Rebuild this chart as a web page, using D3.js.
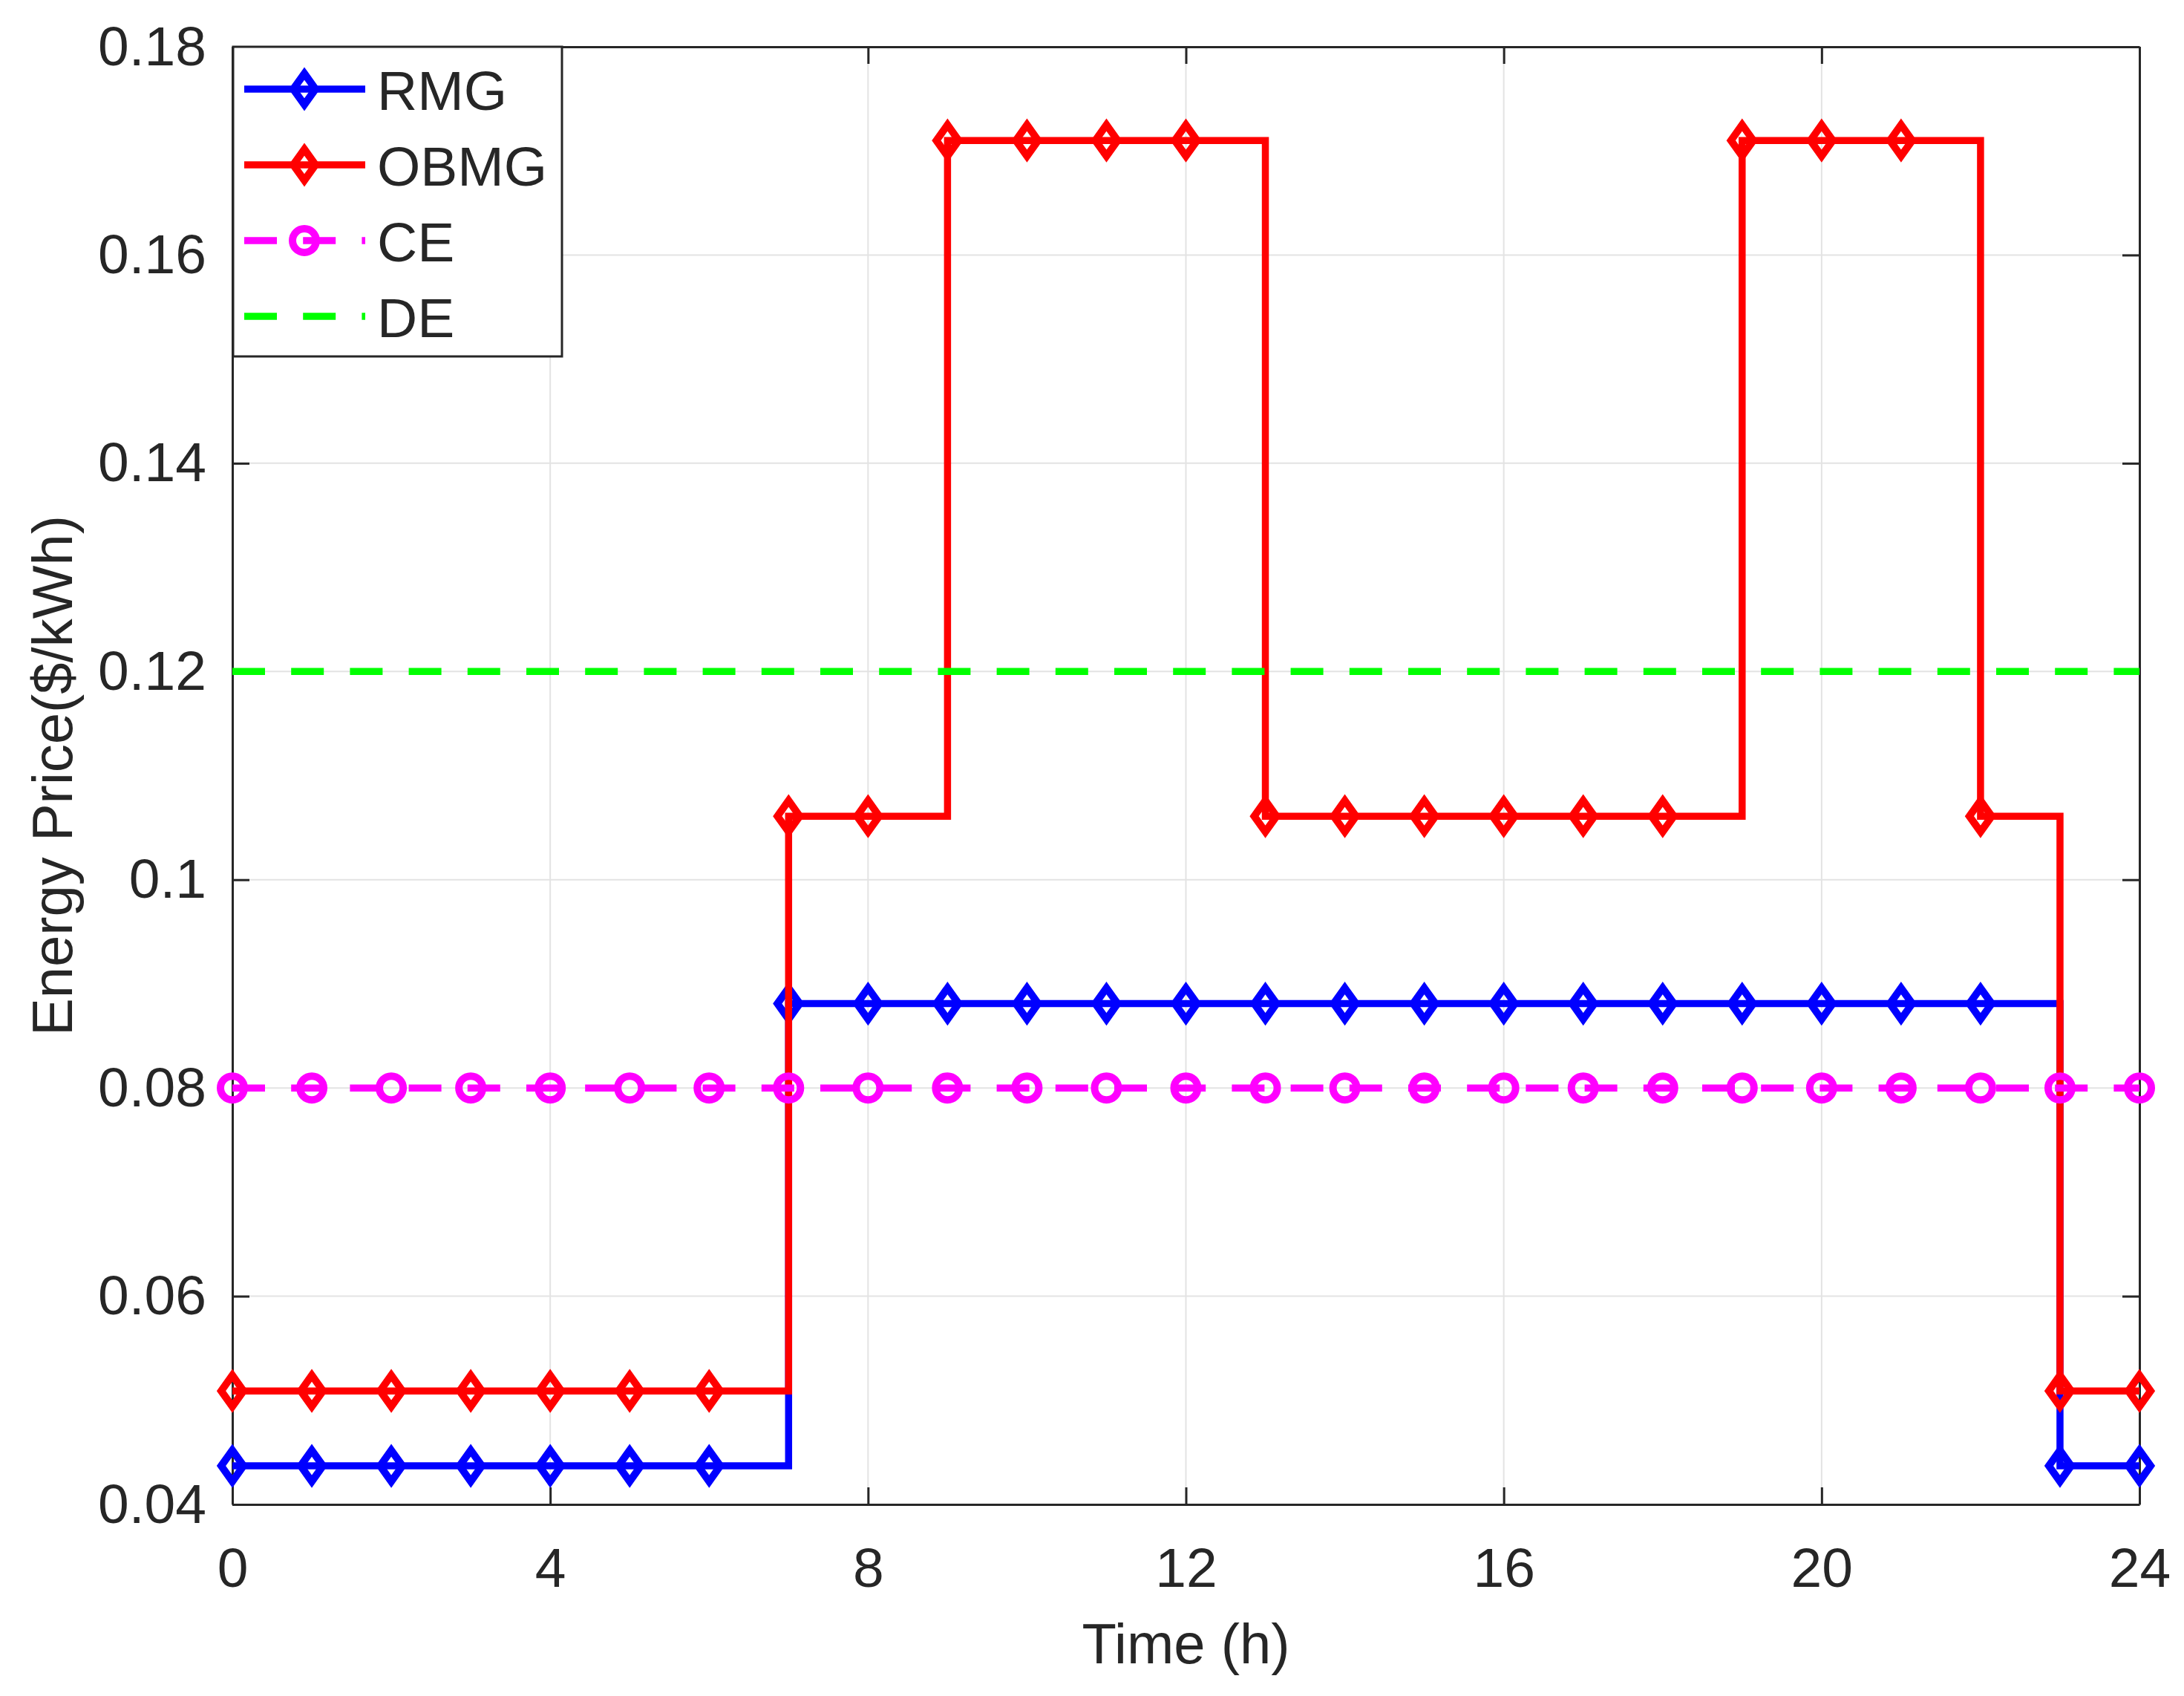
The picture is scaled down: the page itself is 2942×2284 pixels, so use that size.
<!DOCTYPE html>
<html>
<head>
<meta charset="utf-8">
<script src="https://cdn.jsdelivr.net/npm/d3@7"></script>
<style>
  body { margin: 0; background: #fff; }
  text { font-family: "Liberation Sans", Arial, sans-serif; fill: #262626; }
</style>
</head>
<body>
<div id="chart"></div>
<script>
// hourly data
const hours = [0, 1, 2, 3, 4, 5, 6, 7, 8, 9, 10, 11, 12, 13, 14, 15, 16, 17, 18, 19, 20, 21, 22, 23, 24];
const rmg  = [0.0437, 0.0437, 0.0437, 0.0437, 0.0437, 0.0437, 0.0437,
              0.0881, 0.0881, 0.0881, 0.0881, 0.0881, 0.0881, 0.0881, 0.0881,
              0.0881, 0.0881, 0.0881, 0.0881, 0.0881, 0.0881, 0.0881, 0.0881,
              0.0437, 0.0437];
const obmg = [0.0509, 0.0509, 0.0509, 0.0509, 0.0509, 0.0509, 0.0509,
              0.1061, 0.1061, 0.171, 0.171, 0.171, 0.171,
              0.1061, 0.1061, 0.1061, 0.1061, 0.1061, 0.1061,
              0.171, 0.171, 0.171, 0.1061, 0.0509, 0.0509];
const ce   = [0.08, 0.08, 0.08, 0.08, 0.08, 0.08, 0.08, 0.08, 0.08, 0.08, 0.08, 0.08, 0.08,
              0.08, 0.08, 0.08, 0.08, 0.08, 0.08, 0.08, 0.08, 0.08, 0.08, 0.08, 0.08];
const de   = [0.12, 0.12, 0.12, 0.12, 0.12, 0.12, 0.12, 0.12, 0.12, 0.12, 0.12, 0.12, 0.12,
              0.12, 0.12, 0.12, 0.12, 0.12, 0.12, 0.12, 0.12, 0.12, 0.12, 0.12, 0.12];
const xTicks = [0, 4, 8, 12, 16, 20, 24];
const yTicks = [0.04, 0.06, 0.08, 0.1, 0.12, 0.14, 0.16, 0.18];
const seriesNames = ['RMG', 'OBMG', 'CE', 'DE'];

const W = 2942, H = 2284;
const margin = {top: 63, right: 60, bottom: 258, left: 313};
const width = W - margin.left - margin.right;
const height = H - margin.top - margin.bottom;
const axisColor = '#262626';

const svg = d3.select('#chart').append('svg')
    .attr('width', W)
    .attr('height', H);

const chart = svg.append('g')
    .attr('transform', `translate(${margin.left}, ${margin.top})`);

const xScale = d3.scaleLinear().domain([0, 24]).range([0, width]);
const yScale = d3.scaleLinear().domain([0.04, 0.18]).range([height, 0]);

// grid
chart.append('g')
    .selectAll('line')
    .data(xTicks)
    .enter()
    .append('line')
    .attr('x1', d => xScale(d)).attr('x2', d => xScale(d))
    .attr('y1', 0).attr('y2', height)
    .attr('stroke', '#e3e3e3').attr('stroke-width', 2);
chart.append('g')
    .selectAll('line')
    .data(yTicks)
    .enter()
    .append('line')
    .attr('x1', 0).attr('x2', width)
    .attr('y1', d => yScale(d)).attr('y2', d => yScale(d))
    .attr('stroke', '#e3e3e3').attr('stroke-width', 2);

// axes (ticks pointing inward, box on)
function styleAxis(g) {
    g.selectAll('.domain').attr('stroke', axisColor).attr('stroke-width', 3);
    g.selectAll('.tick line').attr('stroke', axisColor).attr('stroke-width', 3);
    g.selectAll('.tick text').style('font-size', '75px').attr('fill', axisColor);
}
const tickLen = 23;

chart.append('g')
    .attr('transform', `translate(0, ${height})`)
    .call(d3.axisBottom(xScale).tickValues(xTicks).tickSizeInner(-tickLen).tickSizeOuter(0).tickPadding(58))
    .call(styleAxis)
    .selectAll('.tick text').attr('dy', '0.71em');

chart.append('g')
    .call(d3.axisTop(xScale).tickValues(xTicks).tickSizeInner(-tickLen).tickSizeOuter(0).tickFormat(''))
    .call(styleAxis);

chart.append('g')
    .call(d3.axisLeft(yScale).tickValues(yTicks).tickSizeInner(-tickLen).tickSizeOuter(0)
        .tickPadding(35).tickFormat(d => d3.format('')(+d.toFixed(2))))
    .call(styleAxis);

chart.append('g')
    .attr('transform', `translate(${width}, 0)`)
    .call(d3.axisRight(yScale).tickValues(yTicks).tickSizeInner(-tickLen).tickSizeOuter(0).tickFormat(''))
    .call(styleAxis);

// series
const dashed = '44,35.2';
const series = [
    {name: 'RMG',  values: rmg,  color: '#0000ff', dash: null,   marker: 'diamond'},
    {name: 'OBMG', values: obmg, color: '#ff0000', dash: null,   marker: 'diamond'},
    {name: 'CE',   values: ce,   color: '#ff00ff', dash: dashed, marker: 'circle'},
    {name: 'DE',   values: de,   color: '#00ff00', dash: dashed, marker: null}
];

const stairs = d3.line()
    .x(d => xScale(d.x))
    .y(d => yScale(d.y))
    .curve(d3.curveStepAfter);

const diamondPath = 'M0,-21L15,0L0,21L-15,0Z';

function drawMarker(g, type, color) {
    if (type === 'diamond') {
        g.append('path').attr('d', diamondPath)
            .attr('fill', 'none').attr('stroke', color).attr('stroke-width', 10)
            .attr('stroke-linejoin', 'miter');
    } else if (type === 'circle') {
        g.append('circle').attr('r', 16)
            .attr('fill', 'none').attr('stroke', color).attr('stroke-width', 10);
    }
}

series.forEach(s => {
    const pts = hours.map((h, i) => ({x: h, y: s.values[i]}));
    chart.append('path')
        .datum(pts)
        .attr('d', stairs)
        .attr('fill', 'none')
        .attr('stroke', s.color)
        .attr('stroke-width', 9.5)
        .attr('stroke-dasharray', s.dash);
    if (s.marker) {
        chart.append('g').selectAll('g')
            .data(pts)
            .enter()
            .append('g')
            .attr('transform', d => `translate(${xScale(d.x)}, ${yScale(d.y)})`)
            .each(function() { drawMarker(d3.select(this), s.marker, s.color); });
    }
});

// legend, top-left corner
const legend = svg.append('g').attr('transform', 'translate(314, 63)');
legend.append('rect')
    .attr('width', 443).attr('height', 417)
    .attr('fill', '#fff').attr('stroke', axisColor).attr('stroke-width', 3);

const rows = legend.selectAll('.row')
    .data(series)
    .enter()
    .append('g')
    .attr('class', 'row')
    .attr('transform', (d, i) => `translate(0, ${57 + i * 102})`);

rows.append('line')
    .attr('x1', 15).attr('x2', 178)
    .attr('stroke', d => d.color)
    .attr('stroke-width', 9.5)
    .attr('stroke-dasharray', d => d.dash);
rows.each(function(d) {
    const m = d3.select(this).append('g').attr('transform', 'translate(96, 0)');
    drawMarker(m, d.marker, d.color);
});
rows.append('text')
    .attr('x', 194)
    .attr('y', 28)
    .style('font-size', '75px')
    .text(d => d.name);

// axis titles
svg.append('text')
    .attr('x', margin.left + width / 2)
    .attr('y', 2240)
    .attr('text-anchor', 'middle')
    .style('font-size', '76px')
    .text('Time (h)');

svg.append('text')
    .attr('transform', `translate(97, ${margin.top + height / 2}) rotate(-90)`)
    .attr('text-anchor', 'middle')
    .style('font-size', '76px')
    .text('Energy Price($/kWh)');
</script>
</body>
</html>
